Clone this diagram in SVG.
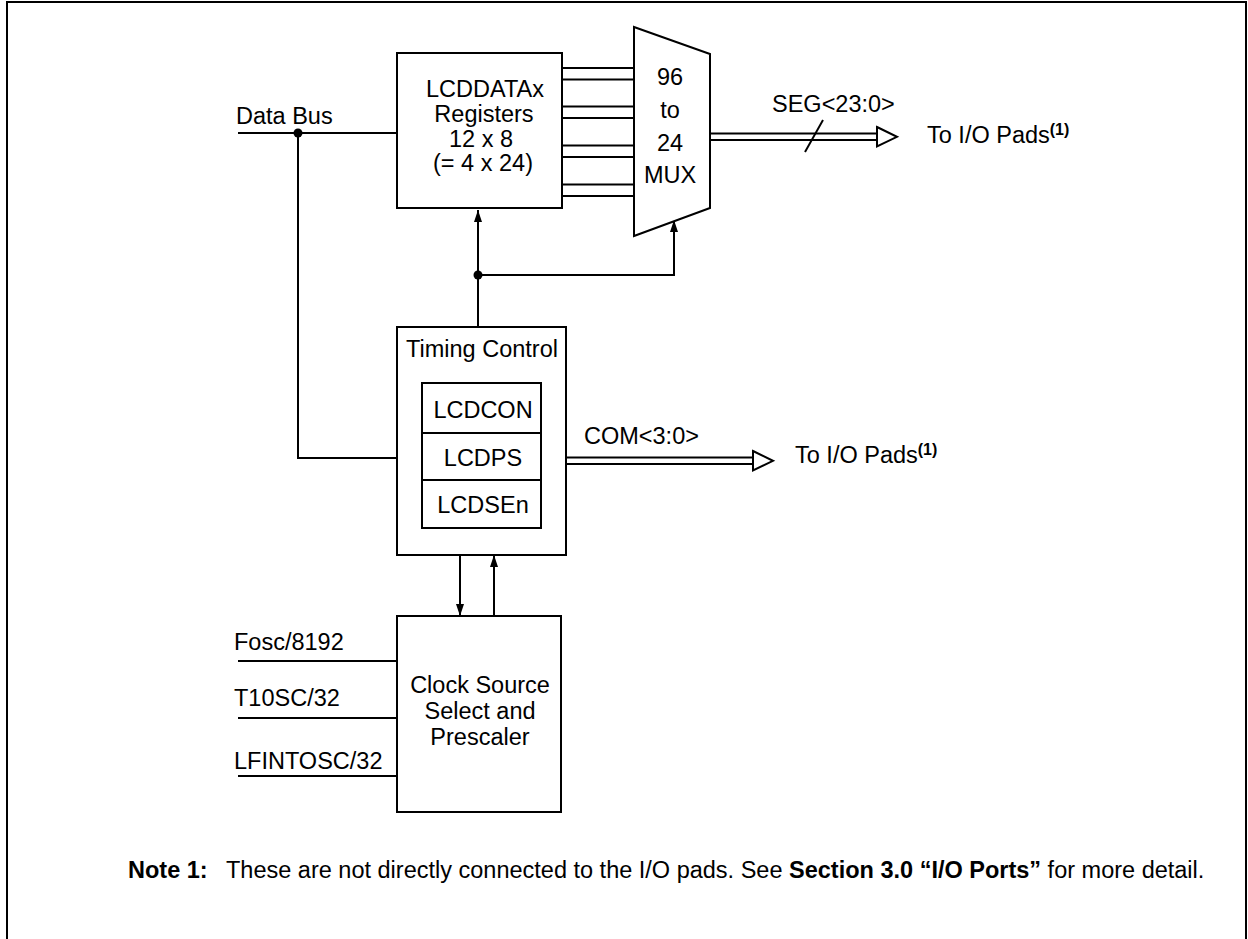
<svg xmlns="http://www.w3.org/2000/svg" width="1248" height="939" viewBox="0 0 1248 939">
<style>
.box{fill:#fff;stroke:#000;stroke-width:2}
.ln{fill:none;stroke:#000;stroke-width:2}
.t{font-family:"Liberation Sans",Arial,sans-serif;font-size:23.5px;fill:#000}
.c{text-anchor:middle}
.b{font-weight:bold}
.sup{font-size:16px;font-weight:bold}
.n{font-family:"Liberation Sans",Arial,sans-serif;font-size:23.5px;fill:#000}
</style>
<defs>
<marker id="ah" viewBox="0 0 12 8" refX="12" refY="4" markerWidth="12" markerHeight="8" markerUnits="userSpaceOnUse" orient="auto">
<path d="M0,0 L12,4 L0,8 Z" fill="#000"/>
</marker>
</defs>
<rect x="7" y="2" width="1239" height="945" fill="none" stroke="#000" stroke-width="2"/>

<g id="connectors">
<path class="ln" d="M238,133 H397"/>
<path class="ln" d="M298,133 V458 H397"/>
<circle cx="298" cy="133" r="4.5" fill="#000"/>
<path class="ln" d="M562,68 H634 M562,79.5 H634 M562,106.5 H634 M562,118 H634 M562,145.5 H634 M562,157 H634 M562,184.5 H634 M562,196 H634"/>
<path class="ln" d="M478,327 V210" marker-end="url(#ah)"/>
<path class="ln" d="M478,275 H674 V220" marker-end="url(#ah)"/>
<circle cx="478" cy="275" r="4.5" fill="#000"/>
<path class="ln" d="M710,133.5 H878 M710,140 H878"/>
<path d="M877,127 L897,136.8 L877,146.5 Z" fill="#fff" stroke="#000" stroke-width="2"/>
<path class="ln" d="M805,152 L823,120"/>
<path class="ln" d="M566,457.5 H754 M566,464 H754"/>
<path d="M753,451 L773,460.8 L753,470.5 Z" fill="#fff" stroke="#000" stroke-width="2"/>
<path class="ln" d="M460,555 V616" marker-end="url(#ah)"/>
<path class="ln" d="M494,616 V555" marker-end="url(#ah)"/>
<path class="ln" d="M238,661 H397 M238,718 H397 M238,776 H397"/>
</g>

<g id="lcddata">
<rect class="box" x="397" y="53" width="165" height="155"/>
<text class="t c" x="485" y="97">LCDDATAx</text>
<text class="t c" x="484" y="122">Registers</text>
<text class="t c" x="481" y="147">12 x 8</text>
<text class="t c" x="483" y="171">(= 4 x 24)</text>
</g>

<g id="mux">
<path class="box" d="M634,27 L710,54 L710,208 L634,236 Z"/>
<text class="t c" x="670" y="85">96</text>
<text class="t c" x="670" y="118">to</text>
<text class="t c" x="670" y="151">24</text>
<text class="t c" x="670" y="183">MUX</text>
</g>

<g id="timing">
<rect class="box" x="397" y="327" width="169" height="228"/>
<text class="t c" x="482" y="357">Timing Control</text>
<rect class="box" x="422" y="383" width="119" height="145"/>
<path class="ln" d="M422,433 H541 M422,480 H541"/>
<text class="t c" x="483" y="418">LCDCON</text>
<text class="t c" x="483" y="466">LCDPS</text>
<text class="t c" x="483" y="513">LCDSEn</text>
</g>

<g id="clock">
<rect class="box" x="397" y="616" width="164" height="196"/>
<text class="t c" x="480" y="693">Clock Source</text>
<text class="t c" x="480" y="719">Select and</text>
<text class="t c" x="480" y="745">Prescaler</text>
</g>

<g id="labels">
<text class="t" x="236" y="124">Data Bus</text>
<text class="t" x="772" y="112">SEG&lt;23:0&gt;</text>
<text class="t" x="927" y="143">To I/O Pads<tspan class="sup" dy="-8">(1)</tspan></text>
<text class="t" x="584" y="444">COM&lt;3:0&gt;</text>
<text class="t" x="795" y="463">To I/O Pads<tspan class="sup" dy="-8">(1)</tspan></text>
<text class="t" x="234" y="650">Fosc/8192</text>
<text class="t" x="234" y="706">T10SC/32</text>
<text class="t" x="234" y="769">LFINTOSC/32</text>
</g>

<g id="note">
<text class="n" x="128" y="878"><tspan class="b">Note 1:</tspan><tspan x="226">These are not directly connected to the I/O pads. See </tspan><tspan class="b">Section 3.0 “I/O Ports”</tspan> for more detail.</text>
</g>
</svg>
